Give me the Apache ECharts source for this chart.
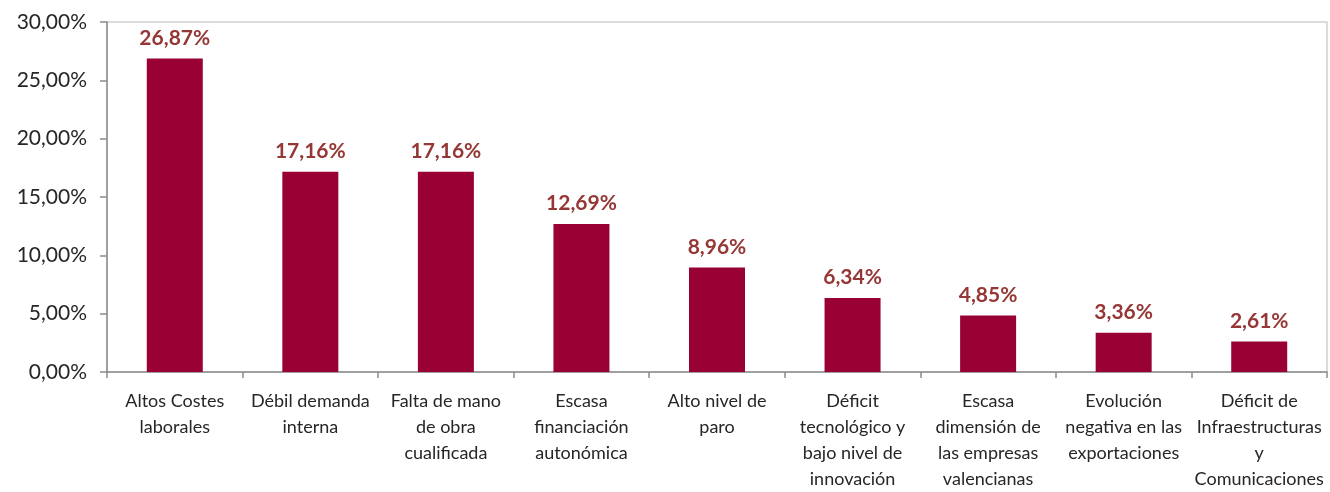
<!DOCTYPE html>
<html>
<head>
<meta charset="utf-8">
<script src="https://cdn.jsdelivr.net/npm/echarts@6/dist/echarts.min.js"></script>
<style>
html,body{margin:0;padding:0;background:#fff;}
#c{width:1330px;height:492px;}
</style>
</head>
<body>
<div id="c"></div>
<script>
const categories = [
  "Altos Costes\nlaborales",
  "Débil demanda\ninterna",
  "Falta de mano\nde obra\ncualificada",
  "Escasa\nfinanciación\nautonómica",
  "Alto nivel de\nparo",
  "Déficit\ntecnológico y\nbajo nivel de\ninnovación",
  "Escasa\ndimensión de\nlas empresas\nvalencianas",
  "Evolución\nnegativa en las\nexportaciones",
  "Déficit de\nInfraestructuras\ny\nComunicaciones"
];
const values = [26.87, 17.16, 17.16, 12.69, 8.96, 6.34, 4.85, 3.36, 2.61];
const yMin = 0, yMax = 30, yStep = 5;

const fmt = v => v.toFixed(2).replace('.', ',') + '%';

const chart = echarts.init(document.getElementById('c'), null, {renderer: 'canvas'});
chart.setOption({
  animation: false,
  backgroundColor: '#ffffff',
  grid: {left: 107, right: 3, top: 22, bottom: 118, show: true, borderColor: '#d0d0d0', borderWidth: 1.5},
  xAxis: {
    type: 'category',
    data: categories,
    axisLine: {lineStyle: {color: '#8c8c8c', width: 1.5}},
    axisTick: {show: true, alignWithLabel: false, length: 6, lineStyle: {color: '#8c8c8c', width: 1.5}},
    axisLabel: {
      interval: 0, color: '#262626', fontFamily: 'Lato', fontSize: 18,
      lineHeight: 26, margin: 16
    }
  },
  yAxis: {
    type: 'value', min: yMin, max: yMax, interval: yStep,
    axisLine: {show: true, lineStyle: {color: '#8c8c8c', width: 1.5}},
    axisTick: {show: true, length: 7, lineStyle: {color: '#8c8c8c', width: 1.5}},
    splitLine: {show: false},
    axisLabel: {formatter: v => fmt(v), color: '#262626', fontFamily: 'Lato', fontSize: 21, margin: 20}
  },
  series: [{
    type: 'bar',
    data: values,
    barWidth: 56,
    itemStyle: {color: '#990033'},
    label: {
      show: true, position: 'top', distance: 10,
      formatter: p => fmt(p.value),
      color: '#953735', fontFamily: 'Lato', fontWeight: 'bold', fontSize: 21
    }
  }]
});
</script>
</body>
</html>
